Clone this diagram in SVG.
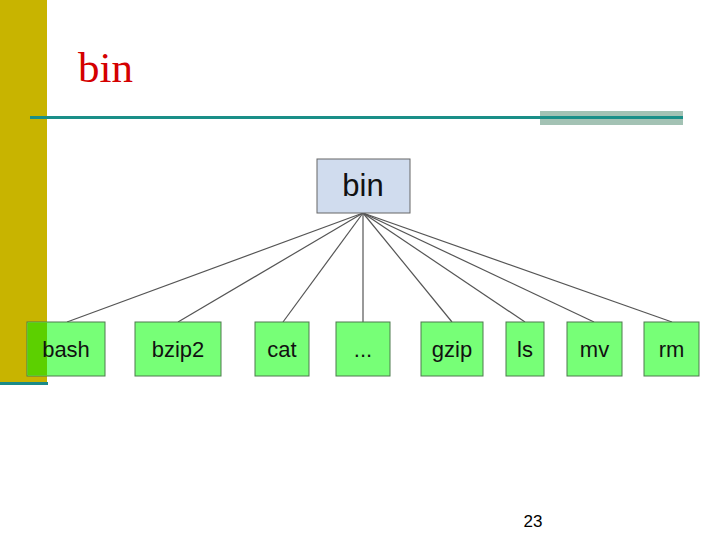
<svg xmlns="http://www.w3.org/2000/svg" width="720" height="540" viewBox="0 0 720 540">
<style>
.leaf rect{fill:#77FF77;stroke:#4E7A4E;stroke-width:1}
.leaf text,.root text{font-family:"Liberation Sans",Arial,sans-serif;fill:#111;text-anchor:middle}
.leaf text{font-size:22px}
#connectors line{stroke:#555;stroke-width:1.2}
</style>
<rect width="720" height="540" fill="#fff"/>
<rect x="0" y="0" width="47" height="383" fill="#C8B400"/>
<rect x="0" y="382" width="48" height="3" fill="#1A8A88"/>
<rect x="540" y="111" width="143" height="14" fill="#A3C2B4"/>
<rect x="30" y="116" width="653" height="3" fill="#1A8F88"/>
<text x="78" y="82" font-family="'Liberation Serif','Times New Roman',serif" font-size="43" fill="#D40000">bin</text>
<g id="connectors">
<line x1="363" y1="213" x2="67" y2="322"/>
<line x1="363" y1="213" x2="178" y2="322"/>
<line x1="363" y1="213" x2="283" y2="322"/>
<line x1="363" y1="213" x2="363" y2="322"/>
<line x1="363" y1="213" x2="452" y2="322"/>
<line x1="363" y1="213" x2="525" y2="322"/>
<line x1="363" y1="213" x2="594" y2="322"/>
<line x1="363" y1="213" x2="672" y2="322"/>
</g>
<g id="root" class="root">
<rect x="317" y="159" width="93" height="54" fill="#D0DCEE" stroke="#666" stroke-width="1"/>
<text x="363" y="196" font-size="31">bin</text>
</g>
<g id="bash" class="leaf">
<rect x="27" y="322" width="78" height="54"/>
<rect x="27.5" y="322.5" width="19.5" height="53" style="fill:#5CD000;stroke:none"/>
<text x="66" y="357">bash</text>
</g>
<g id="bzip2" class="leaf"><rect x="135" y="322" width="86" height="54"/><text x="178" y="357">bzip2</text></g>
<g id="cat" class="leaf"><rect x="255" y="322" width="54" height="54"/><text x="282" y="357">cat</text></g>
<g id="dots" class="leaf"><rect x="336" y="322" width="54" height="54"/><text x="363" y="357">...</text></g>
<g id="gzip" class="leaf"><rect x="421" y="322" width="62" height="54"/><text x="452" y="357">gzip</text></g>
<g id="ls" class="leaf"><rect x="506" y="322" width="38" height="54"/><text x="525" y="357">ls</text></g>
<g id="mv" class="leaf"><rect x="567" y="322" width="55" height="54"/><text x="594.5" y="357">mv</text></g>
<g id="rm" class="leaf"><rect x="644" y="322" width="55" height="54"/><text x="671.5" y="357">rm</text></g>
<text x="533" y="527" font-family="'Liberation Sans',Arial,sans-serif" font-size="17" fill="#000" text-anchor="middle">23</text>
</svg>
